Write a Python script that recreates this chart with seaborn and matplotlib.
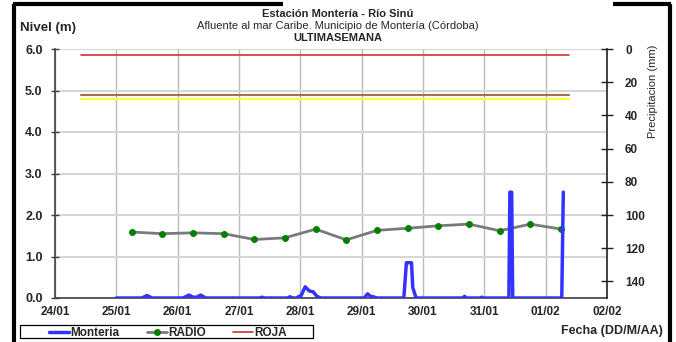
import numpy as np
import pandas as pd
import matplotlib
matplotlib.use("Agg")
import matplotlib.pyplot as plt
from matplotlib.lines import Line2D
from matplotlib.patches import Rectangle
import seaborn as sns

# hours counted from 24/01 00:00
start = pd.Timestamp("2021-01-24 00:00")

monteria_h = [24, 34, 36, 38, 50, 52.5, 54, 55.5, 57, 59, 80, 81, 82, 91, 92, 93,
              94.5, 95.5, 96, 97.9, 99.5, 101, 102.5, 104, 121, 122.3, 123.5, 124.5,
              126, 136.5, 137.5, 139.5, 140, 141.3, 159.5, 160.3, 161, 166.5, 167,
              167.5, 177.6, 178.0, 178.7, 179.1, 198.3, 198.9]
monteria_v = [0, 0, 0.06, 0, 0, 0.07, 0.02, 0.02, 0.07, 0, 0, 0.02, 0, 0, 0.03, 0,
              0, 0.04, 0.02, 0.27, 0.17, 0.15, 0.04, 0, 0, 0.10, 0.04, 0.03,
              0, 0, 0.85, 0.85, 0.25, 0, 0, 0.04, 0, 0, 0.02,
              0, 0, 2.55, 2.55, 0, 0, 2.55]

radio_h = [30, 42, 54, 66, 78, 90, 102, 114, 126, 138, 150, 162, 174, 186, 198]
radio_v = [1.59, 1.55, 1.57, 1.55, 1.41, 1.45, 1.66, 1.40, 1.63, 1.68, 1.74, 1.78,
           1.62, 1.78, 1.66]

umbral_h = [10, 201]
roja_v = 5.85
naranja_v = 4.89
amarilla_v = 4.79

day_labels = ["24/01", "25/01", "26/01", "27/01", "28/01", "29/01", "30/01",
              "31/01", "01/02", "02/02"]
precip_ticks = [0, 20, 40, 60, 80, 100, 120, 140]


def to_time(hours):
    return start + pd.to_timedelta(hours, unit="h")


def main():
    sns.set_style("white")
    plt.rcParams["font.family"] = ["Liberation Sans", "DejaVu Sans"]

    fig = plt.figure(figsize=(6.76, 3.42), dpi=100)
    W, H = 676, 342
    ax = fig.add_axes([55 / W, 1 - 298 / H, (607 - 55) / W, (298 - 49) / H])

    mont = pd.DataFrame({"t": to_time(monteria_h), "v": monteria_v})
    radio = pd.DataFrame({"t": to_time(radio_h), "v": radio_v})
    ut = to_time(umbral_h)

    ax.plot(ut, [amarilla_v] * 2, color="#FFFF33", lw=1.5, zorder=2)
    ax.plot(ut, [naranja_v] * 2, color="#A07050", lw=1.5, zorder=2)
    ax.plot(ut, [roja_v] * 2, color="#D03030", lw=1.2, zorder=2)
    sns.lineplot(data=radio, x="t", y="v", ax=ax, color="#7A7A7A", lw=2,
                 marker="o", markersize=4.2, markerfacecolor="#008000",
                 markeredgecolor="#008000", zorder=3)
    sns.lineplot(data=mont, x="t", y="v", ax=ax, color="#3333FF", lw=2.5, zorder=4)

    ax.set_xlim(start, start + pd.Timedelta(days=9))
    ax.set_ylim(0, 6)
    ax.set_yticks(np.arange(0, 6.01, 1.0))
    ax.set_yticklabels([f"{v:.1f}" for v in np.arange(0, 6.01, 1.0)],
                       fontweight="bold", fontsize=9)
    ax.set_xticks(to_time([24 * i for i in range(len(day_labels))]))
    ax.set_xticklabels(day_labels, fontweight="bold", fontsize=8.5)
    ax.set_xlabel("")
    ax.set_ylabel("")
    ax.tick_params(axis="y", direction="inout", length=6, width=1,
                   color="#404040", pad=6)
    ax.tick_params(axis="x", direction="inout", length=4, width=1,
                   color="#404040", pad=4)
    ax.xaxis.grid(True, color="#BBBBBB", lw=1)
    ax.yaxis.grid(True, color="#D6D6D6", lw=1.5)
    ax.set_axisbelow(True)
    for s in ["top", "right"]:
        ax.spines[s].set_visible(False)
    for s in ["left", "bottom"]:
        ax.spines[s].set_color("#404040")
        ax.spines[s].set_linewidth(1.2)

    ax2 = ax.twinx()
    ax2.set_ylim(150, 0)
    ax2.set_yticks(precip_ticks)
    ax2.set_yticklabels([str(v) for v in precip_ticks], fontweight="bold", fontsize=8.5)
    ax2.tick_params(axis="y", direction="inout", length=8, width=1, color="#202020",
                    pad=9)
    for s in ["top", "left", "bottom"]:
        ax2.spines[s].set_visible(False)
    ax2.spines["right"].set_color("#202020")
    ax2.spines["right"].set_linewidth(1.2)

    fig.text(338 / W, 1 - 14 / H, "Estación Montería - Río Sinú", ha="center",
             va="center", fontsize=8, fontweight="bold")
    fig.text(338 / W, 1 - 26 / H, "Afluente al mar Caribe. Municipio de Montería (Córdoba)",
             ha="center", va="center", fontsize=8)
    fig.text(338 / W, 1 - 38 / H, "ULTIMASEMANA", ha="center", va="center",
             fontsize=8, fontweight="bold")
    fig.text(20 / W, 1 - 28 / H, "Nivel (m)", ha="left", va="center", fontsize=9.5,
             fontweight="bold")
    fig.text(653 / W, 1 - 91 / H, "Precipitacion (mm)", ha="center", va="center",
             rotation=90, fontsize=8)
    fig.text(663 / W, 1 - 331 / H, "Fecha (DD/M/AA)", ha="right", va="center",
             fontsize=9, fontweight="bold")

    handles = [Line2D([], [], color="#3333FF", lw=2.5),
               Line2D([], [], color="#7A7A7A", lw=2, marker="o", markersize=4,
                      markerfacecolor="#008000", markeredgecolor="#008000"),
               Line2D([], [], color="#D03030", lw=1.2)]
    fig.legend(handles, ["Monteria", "RADIO", "ROJA"], loc="center",
               bbox_to_anchor=(168 / W, 1 - 333 / H), ncol=3,
               prop={"weight": "bold", "size": 8.5},
               handlelength=1.7, handletextpad=0.1, columnspacing=2.3,
               frameon=False, borderpad=0)
    fig.add_artist(Rectangle((20 / W, 1 - 338 / H), 293 / W, 13 / H,
                             transform=fig.transFigure, fill=False,
                             edgecolor="black", lw=0.9))

    # outer frame of the original image
    k = dict(color="black", lw=3, transform=fig.transFigure, solid_capstyle="butt")
    fig.add_artist(Line2D([14 / W, 14 / W], [0, 1 - 4 / H], **k))
    fig.add_artist(Line2D([670 / W, 670 / W], [0, 1 - 4 / H], **k))
    fig.add_artist(Line2D([13 / W, 283 / W], [1 - 4 / H, 1 - 4 / H], **k))
    fig.add_artist(Line2D([613 / W, 671 / W], [1 - 4 / H, 1 - 4 / H], **k))

    fig.savefig("out.png", dpi=100)


if __name__ == "__main__":
    main()
